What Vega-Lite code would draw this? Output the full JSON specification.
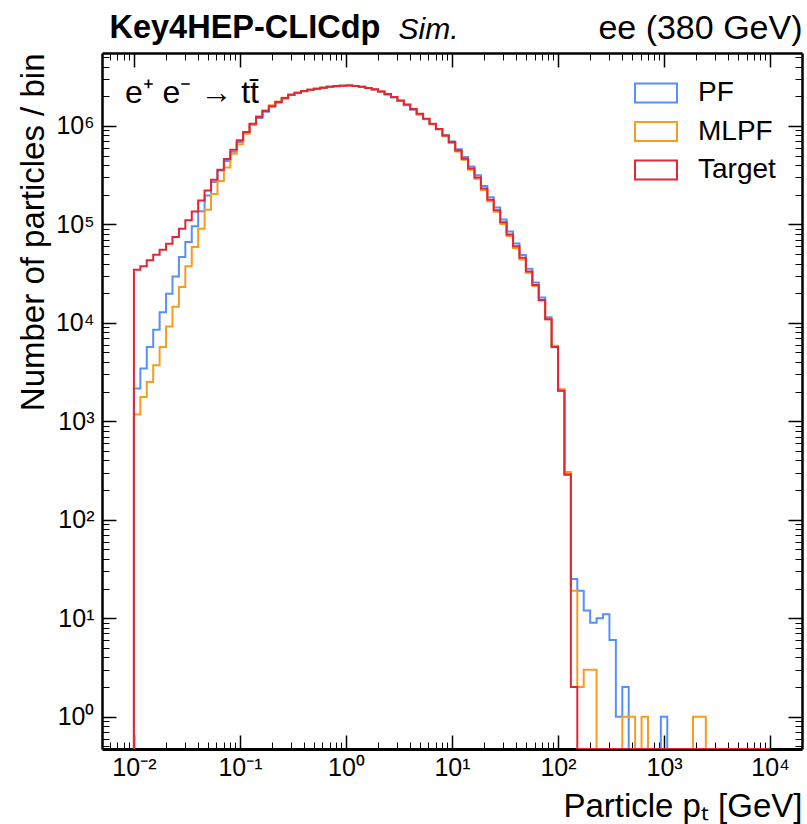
{
  "$schema": "https://vega.github.io/schema/vega-lite/v6.json",
  "width": 700,
  "height": 696,
  "autosize": {"type": "none"},
  "padding": {"left": 102, "top": 53, "right": 5, "bottom": 75},
  "background": "white",
  "config": {
    "font": "Liberation Sans",
    "view": {"stroke": null},
    "axis": {"titleFontWeight": "normal", "domainColor": "black", "tickColor": "black", "labelColor": "black", "titleColor": "black", "grid": false, "zindex": 1, "labelOverlap": false, "labelFlush": false},
    "legend": {"labelColor": "black"}
  },
  "data": {"values": [
    {"hi": 0.01, "PF": 0, "MLPF": 0, "Target": 0},
    {"hi": 0.011498, "PF": 2150, "MLPF": 1170, "Target": 34700},
    {"hi": 0.013219, "PF": 3430, "MLPF": 1770, "Target": 37500},
    {"hi": 0.015199, "PF": 5680, "MLPF": 2510, "Target": 43200},
    {"hi": 0.017475, "PF": 8500, "MLPF": 3700, "Target": 49200},
    {"hi": 0.020092, "PF": 12800, "MLPF": 5680, "Target": 55300},
    {"hi": 0.023101, "PF": 19800, "MLPF": 9200, "Target": 63700},
    {"hi": 0.026561, "PF": 29600, "MLPF": 14600, "Target": 74300},
    {"hi": 0.030539, "PF": 46600, "MLPF": 23100, "Target": 90400},
    {"hi": 0.035112, "PF": 66100, "MLPF": 37500, "Target": 110000},
    {"hi": 0.04037, "PF": 95500, "MLPF": 58900, "Target": 135000},
    {"hi": 0.046416, "PF": 136000, "MLPF": 90400, "Target": 175000},
    {"hi": 0.053367, "PF": 197000, "MLPF": 141000, "Target": 221000},
    {"hi": 0.061359, "PF": 269000, "MLPF": 204000, "Target": 284000},
    {"hi": 0.070548, "PF": 353000, "MLPF": 275000, "Target": 359000},
    {"hi": 0.081113, "PF": 440000, "MLPF": 377000, "Target": 460000},
    {"hi": 0.09326, "PF": 545000, "MLPF": 522000, "Target": 573000},
    {"hi": 0.10723, "PF": 685000, "MLPF": 650000, "Target": 713000},
    {"hi": 0.12328, "PF": 840000, "MLPF": 830000, "Target": 865000},
    {"hi": 0.14175, "PF": 1030000, "MLPF": 1040000, "Target": 1052000},
    {"hi": 0.16298, "PF": 1205000, "MLPF": 1250000, "Target": 1228000},
    {"hi": 0.18738, "PF": 1390000, "MLPF": 1440000, "Target": 1413000},
    {"hi": 0.21544, "PF": 1570000, "MLPF": 1620000, "Target": 1588000},
    {"hi": 0.24771, "PF": 1725000, "MLPF": 1770000, "Target": 1744000},
    {"hi": 0.2848, "PF": 1895000, "MLPF": 1930000, "Target": 1915000},
    {"hi": 0.32745, "PF": 2055000, "MLPF": 2080000, "Target": 2074000},
    {"hi": 0.37649, "PF": 2160000, "MLPF": 2175000, "Target": 2173000},
    {"hi": 0.43288, "PF": 2245000, "MLPF": 2255000, "Target": 2256000},
    {"hi": 0.4977, "PF": 2325000, "MLPF": 2330000, "Target": 2333000},
    {"hi": 0.57224, "PF": 2380000, "MLPF": 2385000, "Target": 2387000},
    {"hi": 0.65793, "PF": 2435000, "MLPF": 2440000, "Target": 2443000},
    {"hi": 0.75646, "PF": 2495000, "MLPF": 2498000, "Target": 2500000},
    {"hi": 0.86975, "PF": 2530000, "MLPF": 2532000, "Target": 2535000},
    {"hi": 1, "PF": 2555000, "MLPF": 2558000, "Target": 2560000},
    {"hi": 1.1498, "PF": 2570000, "MLPF": 2574000, "Target": 2577000},
    {"hi": 1.3219, "PF": 2540000, "MLPF": 2543000, "Target": 2546000},
    {"hi": 1.5199, "PF": 2490000, "MLPF": 2495000, "Target": 2500000},
    {"hi": 1.7475, "PF": 2420000, "MLPF": 2428000, "Target": 2432000},
    {"hi": 2.0092, "PF": 2335000, "MLPF": 2345000, "Target": 2350000},
    {"hi": 2.3101, "PF": 2220000, "MLPF": 2232000, "Target": 2240000},
    {"hi": 2.6561, "PF": 2090000, "MLPF": 2105000, "Target": 2113000},
    {"hi": 3.0539, "PF": 1945000, "MLPF": 1962000, "Target": 1970000},
    {"hi": 3.5112, "PF": 1790000, "MLPF": 1805000, "Target": 1815000},
    {"hi": 4.037, "PF": 1625000, "MLPF": 1640000, "Target": 1652000},
    {"hi": 4.6416, "PF": 1460000, "MLPF": 1478000, "Target": 1488000},
    {"hi": 5.3367, "PF": 1305000, "MLPF": 1320000, "Target": 1330000},
    {"hi": 6.1359, "PF": 1165000, "MLPF": 1175000, "Target": 1184000},
    {"hi": 7.0548, "PF": 1040000, "MLPF": 1045000, "Target": 1052000},
    {"hi": 8.1113, "PF": 925000, "MLPF": 925000, "Target": 932000},
    {"hi": 9.326, "PF": 805000, "MLPF": 790000, "Target": 801000},
    {"hi": 10.723, "PF": 695000, "MLPF": 672000, "Target": 685000},
    {"hi": 12.328, "PF": 580000, "MLPF": 550000, "Target": 564000},
    {"hi": 14.175, "PF": 482000, "MLPF": 452000, "Target": 464000},
    {"hi": 16.298, "PF": 388000, "MLPF": 358000, "Target": 370000},
    {"hi": 18.738, "PF": 316000, "MLPF": 290000, "Target": 300000},
    {"hi": 21.544, "PF": 245000, "MLPF": 224000, "Target": 232000},
    {"hi": 24.771, "PF": 189000, "MLPF": 172000, "Target": 178000},
    {"hi": 28.48, "PF": 148000, "MLPF": 134000, "Target": 139000},
    {"hi": 32.745, "PF": 112000, "MLPF": 101000, "Target": 105000},
    {"hi": 37.649, "PF": 84500, "MLPF": 76000, "Target": 79100},
    {"hi": 43.288, "PF": 64000, "MLPF": 57500, "Target": 59800},
    {"hi": 49.77, "PF": 48800, "MLPF": 44000, "Target": 45700},
    {"hi": 57.224, "PF": 35500, "MLPF": 32300, "Target": 33300},
    {"hi": 65.793, "PF": 25700, "MLPF": 23700, "Target": 24200},
    {"hi": 75.646, "PF": 18100, "MLPF": 16900, "Target": 17100},
    {"hi": 86.975, "PF": 11400, "MLPF": 10900, "Target": 10900},
    {"hi": 100, "PF": 5800, "MLPF": 5850, "Target": 5680},
    {"hi": 114.98, "PF": 2060, "MLPF": 2120, "Target": 2040},
    {"hi": 132.19, "PF": 285, "MLPF": 305, "Target": 290},
    {"hi": 151.99, "PF": 25, "MLPF": 19, "Target": 2},
    {"hi": 174.75, "PF": 19, "MLPF": 2, "Target": 0},
    {"hi": 200.92, "PF": 12, "MLPF": 3, "Target": 0},
    {"hi": 231.01, "PF": 9, "MLPF": 3, "Target": 0},
    {"hi": 265.61, "PF": 10, "MLPF": 0, "Target": 0},
    {"hi": 305.39, "PF": 11, "MLPF": 0, "Target": 0},
    {"hi": 351.12, "PF": 6, "MLPF": 0, "Target": 0},
    {"hi": 403.7, "PF": 1, "MLPF": 0, "Target": 0},
    {"hi": 464.16, "PF": 2, "MLPF": 1, "Target": 0},
    {"hi": 533.67, "PF": 0, "MLPF": 1, "Target": 0},
    {"hi": 613.59, "PF": 0, "MLPF": 0, "Target": 0},
    {"hi": 705.48, "PF": 0, "MLPF": 1, "Target": 0},
    {"hi": 811.13, "PF": 0, "MLPF": 0, "Target": 0},
    {"hi": 932.6, "PF": 0, "MLPF": 0, "Target": 0},
    {"hi": 1072.3, "PF": 1, "MLPF": 0, "Target": 0},
    {"hi": 1232.8, "PF": 0, "MLPF": 0, "Target": 0},
    {"hi": 1417.5, "PF": 0, "MLPF": 0, "Target": 0},
    {"hi": 1629.8, "PF": 0, "MLPF": 0, "Target": 0},
    {"hi": 1873.8, "PF": 0, "MLPF": 0, "Target": 0},
    {"hi": 2154.4, "PF": 0, "MLPF": 1, "Target": 0},
    {"hi": 2477.1, "PF": 0, "MLPF": 1, "Target": 0},
    {"hi": 2848, "PF": 0, "MLPF": 0, "Target": 0},
    {"hi": 3274.5, "PF": 0, "MLPF": 0, "Target": 0},
    {"hi": 3764.9, "PF": 0, "MLPF": 0, "Target": 0},
    {"hi": 4328.8, "PF": 0, "MLPF": 0, "Target": 0},
    {"hi": 4977, "PF": 0, "MLPF": 0, "Target": 0},
    {"hi": 5722.4, "PF": 0, "MLPF": 0, "Target": 0},
    {"hi": 6579.3, "PF": 0, "MLPF": 0, "Target": 0},
    {"hi": 7564.6, "PF": 0, "MLPF": 0, "Target": 0},
    {"hi": 8697.5, "PF": 0, "MLPF": 0, "Target": 0},
    {"hi": 10000, "PF": 0, "MLPF": 0, "Target": 0}
  ]},
  "transform": [{"fold": ["PF", "MLPF", "Target"], "as": ["sample", "count"]}],
  "layer": [
    {
      "mark": {"type": "line", "interpolate": "step-before", "strokeWidth": 2, "clip": true},
      "encoding": {
        "x": {"field": "hi", "type": "quantitative",
          "scale": {"type": "log", "domain": [0.005, 20000], "nice": false},
          "axis": {"orient": "bottom", "values": [0.01, 0.1, 1, 10, 100, 1000, 10000], "tickSize": -14, "tickWidth": 1.5, "domainWidth": 3,
            "labelFontSize": 25, "labelPadding": 20,
            "labelExpr": "'10' + ['⁻²','⁻¹','⁰','¹','²','³','⁴','⁵','⁶'][round(log(datum.value)/LN10)+2]",
            "title": "Particle pₜ [GeV]", "titleFontSize": 33, "titleAnchor": "end", "titleBaseline": "alphabetic", "titleY": 67}},
        "y": {"field": "count", "type": "quantitative",
          "scale": {"type": "log", "domain": [0.47, 5500000], "nice": false, "clamp": true},
          "axis": {"orient": "left", "values": [1, 10, 100, 1000, 10000, 100000, 1000000], "tickSize": -14, "tickWidth": 1.5, "domainWidth": 2.5,
            "labelFontSize": 25, "labelPadding": 22,
            "labelExpr": "'10' + ['⁻²','⁻¹','⁰','¹','²','³','⁴','⁵','⁶'][round(log(datum.value)/LN10)+2]",
            "title": "Number of particles / bin", "titleFontSize": 33, "titleAnchor": "end", "titleBaseline": "alphabetic", "titleX": -59}},
        "color": {"field": "sample", "type": "nominal",
          "scale": {"domain": ["PF", "MLPF", "Target"], "range": ["#5790fc", "#f89c20", "#e42536"]},
          "legend": {"orient": "none", "legendX": 538, "legendY": 24, "title": null,
            "symbolType": "M-1.4,-0.63H1.4V0.63H-1.4Z", "symbolSize": 900, "symbolStrokeWidth": 2, "symbolFillColor": "transparent",
            "labelFontSize": 28, "labelOffset": 26, "rowPadding": 8.5, "padding": 0}}
      }
    },
    {
      "mark": {"type": "point", "opacity": 0},
      "encoding": {
        "x": {"field": "hi", "type": "quantitative",
          "scale": {"type": "log", "domain": [0.005, 20000], "nice": false},
          "axis": {"orient": "bottom", "values": [0.006,0.007,0.008,0.009,0.02,0.03,0.04,0.05,0.06,0.07,0.08,0.09,0.2,0.3,0.4,0.5,0.6,0.7,0.8,0.9,2,3,4,5,6,7,8,9,20,30,40,50,60,70,80,90,200,300,400,500,600,700,800,900,2000,3000,4000,5000,6000,7000,8000,9000],
            "tickSize": -7, "tickWidth": 1, "labels": false, "domain": false, "title": null}},
        "y": {"field": "count", "type": "quantitative",
          "scale": {"type": "log", "domain": [0.47, 5500000], "nice": false, "clamp": true},
          "axis": {"orient": "left", "values": [0.5,0.6,0.7,0.8,0.9,2,3,4,5,6,7,8,9,20,30,40,50,60,70,80,90,200,300,400,500,600,700,800,900,2000,3000,4000,5000,6000,7000,8000,9000,20000,30000,40000,50000,60000,70000,80000,90000,200000,300000,400000,500000,600000,700000,800000,900000,2000000,3000000,4000000,5000000],
            "tickSize": -7, "tickWidth": 1, "labels": false, "domain": false, "title": null}}
      }
    },
    {
      "mark": {"type": "point", "opacity": 0},
      "encoding": {
        "x": {"field": "hi", "type": "quantitative",
          "scale": {"type": "log", "domain": [0.005, 20000], "nice": false},
          "axis": {"orient": "top", "values": [0.01, 0.1, 1, 10, 100, 1000, 10000], "tickSize": -14, "tickWidth": 1.5, "domainWidth": 2.5, "labels": false,
            "title": "Key4HEP-CLICdp", "titleFontSize": 32.5, "titleFontWeight": "bold", "titleAlign": "left", "titleBaseline": "alphabetic", "titleX": 7, "titleY": -16}},
        "y": {"field": "count", "type": "quantitative",
          "scale": {"type": "log", "domain": [0.47, 5500000], "nice": false, "clamp": true},
          "axis": {"orient": "right", "values": [1, 10, 100, 1000, 10000, 100000, 1000000], "tickSize": -14, "tickWidth": 1.5, "domainWidth": 2.5, "labels": false, "title": null}}
      }
    },
    {
      "mark": {"type": "point", "opacity": 0},
      "encoding": {
        "x": {"field": "hi", "type": "quantitative",
          "scale": {"type": "log", "domain": [0.005, 20000], "nice": false},
          "axis": {"orient": "top", "values": [0.006,0.007,0.008,0.009,0.02,0.03,0.04,0.05,0.06,0.07,0.08,0.09,0.2,0.3,0.4,0.5,0.6,0.7,0.8,0.9,2,3,4,5,6,7,8,9,20,30,40,50,60,70,80,90,200,300,400,500,600,700,800,900,2000,3000,4000,5000,6000,7000,8000,9000],
            "tickSize": -7, "tickWidth": 1, "labels": false, "domain": false,
            "title": "ee (380 GeV)", "titleFontSize": 34, "titleAlign": "right", "titleBaseline": "alphabetic", "titleX": 700, "titleY": -15}},
        "y": {"field": "count", "type": "quantitative",
          "scale": {"type": "log", "domain": [0.47, 5500000], "nice": false, "clamp": true},
          "axis": {"orient": "right", "values": [0.5,0.6,0.7,0.8,0.9,2,3,4,5,6,7,8,9,20,30,40,50,60,70,80,90,200,300,400,500,600,700,800,900,2000,3000,4000,5000,6000,7000,8000,9000,20000,30000,40000,50000,60000,70000,80000,90000,200000,300000,400000,500000,600000,700000,800000,900000,2000000,3000000,4000000,5000000],
            "tickSize": -7, "tickWidth": 1, "labels": false, "domain": false, "title": null}}
      }
    },
    {
      "data": {"values": [{}]},
      "mark": {"type": "text", "text": "e⁺ e⁻ → tt̄", "fontSize": 32, "align": "left", "baseline": "alphabetic", "color": "black"},
      "encoding": {
        "x": {"datum": 0.00822, "type": "quantitative",
          "scale": {"type": "log", "domain": [0.005, 20000], "nice": false},
          "axis": {"orient": "top", "ticks": false, "labels": false, "domain": false,
            "title": "Sim.", "titleFontSize": 30, "titleFontStyle": "italic", "titleAlign": "left", "titleBaseline": "alphabetic", "titleX": 296, "titleY": -15}},
        "y": {"datum": 1690000, "type": "quantitative",
          "scale": {"type": "log", "domain": [0.47, 5500000], "nice": false, "clamp": true},
          "axis": null}
      }
    }
  ],
  "resolve": {"axis": {"x": "independent", "y": "independent"}}
}
